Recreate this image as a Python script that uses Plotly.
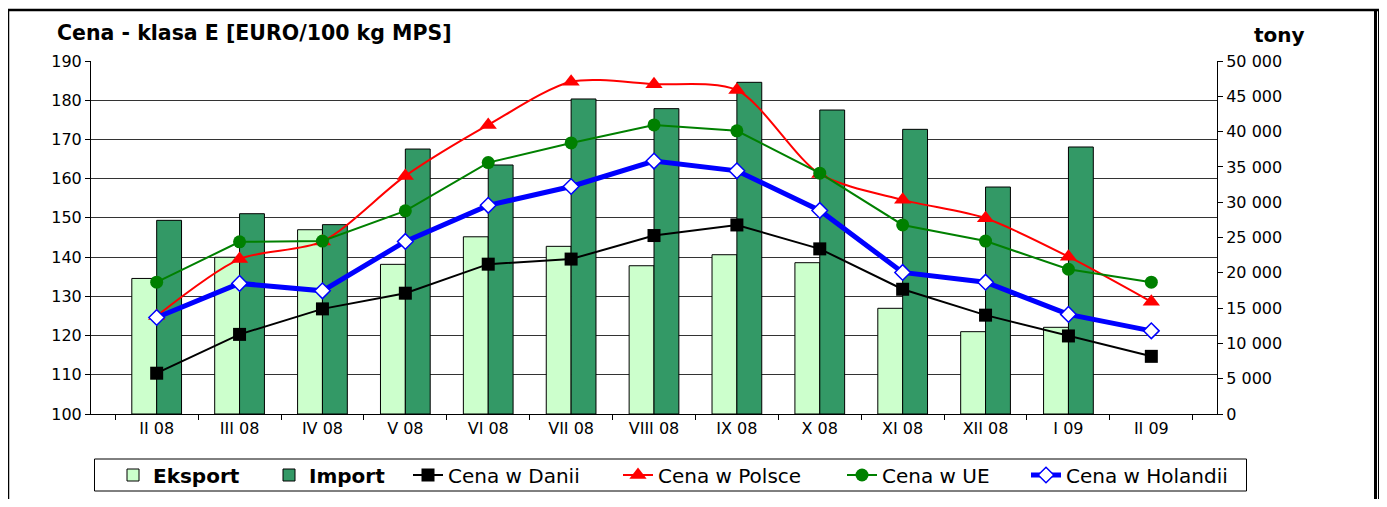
import plotly.graph_objects as go

months = ["II 08", "III 08", "IV 08", "V 08", "VI 08", "VII 08", "VIII 08",
          "IX 08", "X 08", "XI 08", "XII 08", "I 09", "II 09"]

eksport = [19200, 22200, 26100, 21200, 25100, 23750, 21000, 22560, 21430,
           14970, 11660, 12280, None]
import_ = [27430, 28370, 26820, 37530, 35270, 44620, 43250, 46980, 43060,
           40320, 32150, 37820, None]

cena_dania = [110.4, 120.3, 126.8, 130.8, 138.2, 139.5, 145.5, 148.2, 142.1,
              131.8, 125.2, 119.9, 114.7]
cena_polska = [125.0, 139.5, 144.0, 160.7, 173.7, 184.7, 184.1, 182.6, 161.2,
               154.6, 149.9, 140.1, 128.6]
cena_ue = [133.6, 143.9, 144.1, 151.8, 164.1, 169.1, 173.7, 172.2, 161.4,
           148.2, 144.1, 136.9, 133.6]
cena_holandia = [124.6, 133.3, 131.4, 144.0, 153.2, 158.0, 164.5, 162.0, 151.9,
                 136.1, 133.6, 125.4, 121.2]

left_ticks = list(range(100, 191, 10))
right_ticks = list(range(0, 50001, 5000))
right_labels = ["0" if v == 0 else f"{v // 1000} 000" for v in right_ticks]

FONT = "DejaVu Sans, Arial, sans-serif"

# page body has an 8 px margin: screen = figure + 8
OFF = 8
SW, SH = 1387, 507
W, H = SW - 2 * OFF, SH - 2 * OFF
L, R, T, B = 91, 1217, 61, 414          # plot area in screen px
pw, ph = R - L, B - T


def px(x):
    return (x - L) / pw


def py(y):
    return (B - y) / ph


# legend text start positions (screen px) for each entry
legend_text_x = [155, 311, 450, 660, 884, 1068]
legend_names = ["legend", "legend2", "legend3", "legend4", "legend5", "legend6"]

fig = go.Figure()
fig.add_trace(go.Bar(x=months, y=eksport, name="<b>Eksport</b>", legend="legend",
                     marker=dict(color="#CCFFCC", line=dict(color="black", width=1)),
                     yaxis="y"))
fig.add_trace(go.Bar(x=months, y=import_, name="<b>Import</b>", legend="legend2",
                     marker=dict(color="#339966", line=dict(color="black", width=1)),
                     yaxis="y"))
fig.add_trace(go.Scatter(x=months, y=cena_dania, name="Cena w Danii", yaxis="y2",
                         legend="legend3", mode="lines+markers",
                         line=dict(color="black", width=2),
                         marker=dict(symbol="square", size=13, color="black")))
fig.add_trace(go.Scatter(x=months, y=cena_polska, name="Cena w Polsce", yaxis="y2",
                         legend="legend4", mode="lines+markers",
                         line=dict(color="#FF0000", width=2, shape="spline", smoothing=0.8),
                         marker=dict(symbol="triangle-up", size=15, color="#FF0000")))
fig.add_trace(go.Scatter(x=months, y=cena_ue, name="Cena w UE", yaxis="y2",
                         legend="legend5", mode="lines+markers",
                         line=dict(color="#008000", width=2),
                         marker=dict(symbol="circle", size=13, color="#008000")))
fig.add_trace(go.Scatter(x=months, y=cena_holandia, name="Cena w Holandii", yaxis="y2",
                         legend="legend6", mode="lines+markers",
                         line=dict(color="#0000FF", width=5),
                         marker=dict(symbol="diamond", size=12, color="white",
                                     line=dict(color="#0000FF", width=1.5))))

legend_layout = {}
for name, tx in zip(legend_names, legend_text_x):
    legend_layout[name] = dict(orientation="h", x=px(tx - 42), y=py(475),
                               xanchor="left", yanchor="middle",
                               borderwidth=0, bgcolor="rgba(0,0,0,0)",
                               font=dict(family=FONT, size=20, color="black"),
                               itemwidth=30)

fig.update_layout(
    width=W, height=H,
    margin=dict(l=L - OFF, r=W - (R - OFF), t=T - OFF, b=H - (B - OFF), pad=0,
                autoexpand=False),
    paper_bgcolor="white", plot_bgcolor="white",
    font=dict(family=FONT, size=16, color="black"),
    barmode="group", bargap=0.4, bargroupgap=0,
    showlegend=True,
    xaxis=dict(type="category", tickson="boundaries", ticks="outside", ticklen=5,
               tickcolor="black", showline=True, linecolor="black", linewidth=1,
               showgrid=False, tickfont=dict(size=16), zeroline=False),
    yaxis=dict(side="right", range=[0, 50000], tickvals=right_ticks, ticktext=right_labels,
               ticks="outside", ticklen=5, tickcolor="black", showline=True,
               linecolor="black", linewidth=1, showgrid=False, zeroline=False,
               tickfont=dict(size=16)),
    yaxis2=dict(side="left", overlaying="y", range=[100, 190], tickvals=left_ticks,
                ticks="outside", ticklen=5, tickcolor="black", showline=True,
                linecolor="black", linewidth=1, showgrid=True, gridcolor="#333333",
                gridwidth=1, zeroline=False, tickfont=dict(size=16)),
    **legend_layout,
)

fig.add_annotation(text="<b>Cena - klasa E [EURO/100 kg MPS]</b>", xref="paper", yref="paper",
                   x=px(55), y=py(33), xanchor="left", yanchor="middle", showarrow=False,
                   font=dict(family=FONT, size=20.5, color="black"))
fig.add_annotation(text="<b>tony</b>", xref="paper", yref="paper",
                   x=px(1307), y=py(35), xanchor="right", yanchor="middle", showarrow=False,
                   font=dict(family=FONT, size=20, color="black"))

# legend box
fig.add_shape(type="rect", xref="paper", yref="paper", x0=px(94.5), x1=px(1246.5),
              y0=py(491), y1=py(459), line=dict(color="black", width=1))

# outer chart frame
fig.add_shape(type="line", xref="paper", yref="paper", x0=px(8), x1=px(8),
              y0=py(9), y1=py(520), line=dict(color="black", width=2.5))
fig.add_shape(type="line", xref="paper", yref="paper", x0=px(7), x1=px(1381),
              y0=py(10), y1=py(10), line=dict(color="black", width=2.5))
fig.add_shape(type="line", xref="paper", yref="paper", x0=px(1375.5), x1=px(1375.5),
              y0=py(9), y1=py(520), line=dict(color="black", width=3))
fig.add_shape(type="line", xref="paper", yref="paper", x0=px(1378.5), x1=px(1378.5),
              y0=py(9), y1=py(520), line=dict(color="black", width=1))

fig.write_html("out.html")
